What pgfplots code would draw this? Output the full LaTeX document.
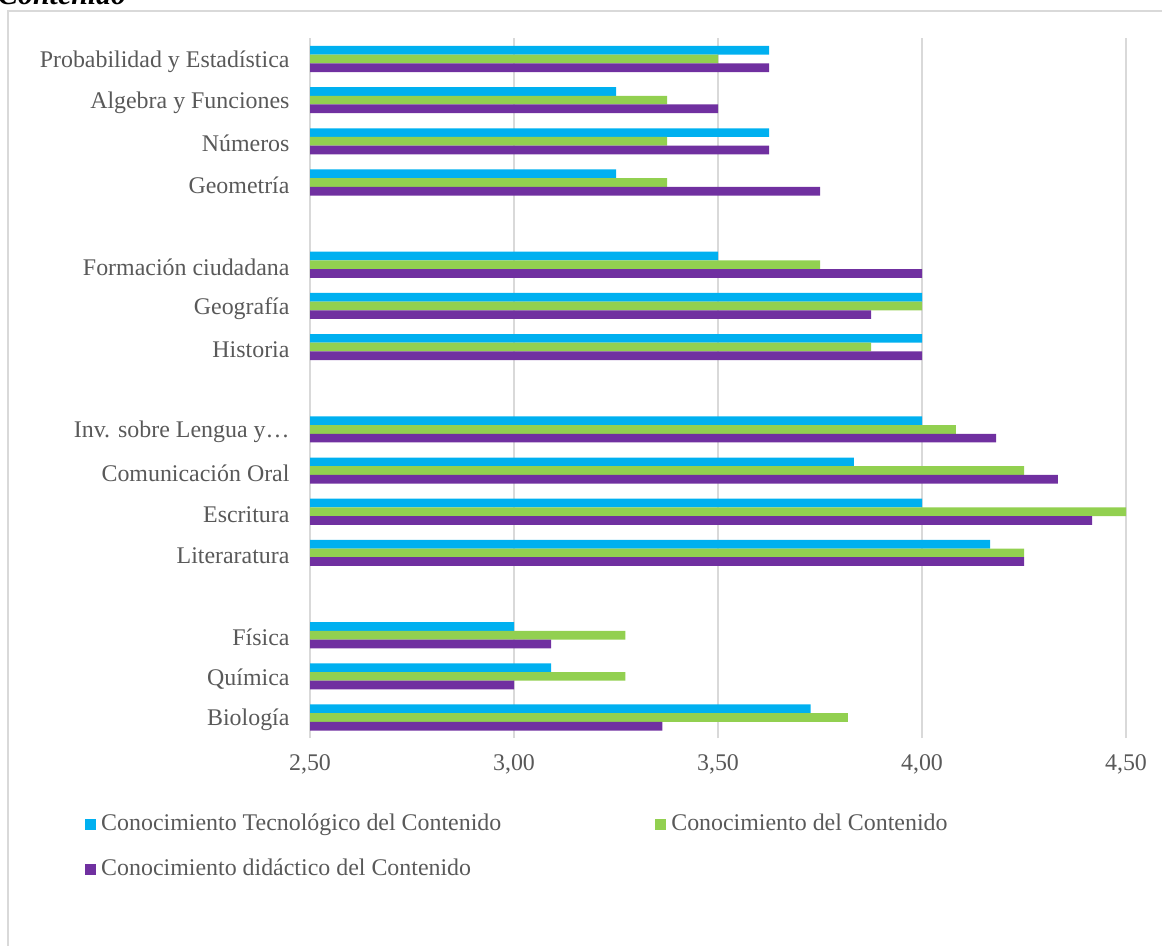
\documentclass[border=0pt]{standalone}
\usepackage{pgfplots}
\pgfplotsset{compat=1.18}
\usepackage{pgfplotstable}
\usepackage{fontspec}
\setmainfont{Liberation Serif}

\definecolor{ctc}{HTML}{00B0F0}
\definecolor{cc}{HTML}{92D050}
\definecolor{cdc}{HTML}{7030A0}
\definecolor{txt}{HTML}{595959}
\definecolor{gridc}{HTML}{D9D9D9}

% pos: row on the category axis (gaps separate the subject areas)
\pgfplotstableread{
pos tec    cont   did
0   3.7273 3.8182 3.3636
1   3.0909 3.2727 3.0000
2   3.0000 3.2727 3.0909
4   4.1667 4.2500 4.2500
5   4.0000 4.5000 4.4167
6   3.8333 4.2500 4.3333
7   4.0000 4.0833 4.1818
9   4.0000 3.8750 4.0000
10  4.0000 4.0000 3.8750
11  3.5000 3.7500 4.0000
13  3.2500 3.3750 3.7500
14  3.6250 3.3750 3.6250
15  3.2500 3.3750 3.5000
16  3.6250 3.5000 3.6250
}\datos

\begin{document}
\begin{tikzpicture}
\useasboundingbox (0bp,0bp) rectangle (1162bp,-946bp);
\draw[gridc, line width=1.5bp] (8bp,-950bp) -- (8bp,-11bp) -- (1170bp,-11bp);
\node[anchor=base west, inner sep=0pt,
      font=\fontsize{30}{34}\selectfont\bfseries\itshape] at (-2bp,-4bp) {Contenido};
\begin{axis}[
  at={(310bp,-738.1bp)}, anchor=south west,
  scale only axis, width=816bp, height=699.7bp,
  xmin=2.5, xmax=4.5, ymin=-0.5, ymax=16.5,
  xbar, bar width=8.7bp,
  axis line style={draw=none},
  major tick length=0pt,
  xtick={2.5,3,3.5,4,4.5},
  xticklabels={{\textrm{2,50}},{\textrm{3,00}},{\textrm{3,50}},{\textrm{4,00}},{\textrm{4,50}}},
  ytick={0,...,16},
  yticklabels={Biología,Química,Física,{},Literaratura,Escritura,
    Comunicación Oral,Inv. sobre Lengua y…,{},Historia,Geografía,
    Formación ciudadana,{},Geometría,Números,Algebra y Funciones,
    Probabilidad y Estadística},
  xmajorgrids,
  major grid style={gridc, line width=1.5bp},
  tick label style={font=\fontsize{24}{28}\selectfont, text=txt},
  yticklabel style={xshift=-17bp, yshift=-2.5bp},
  xticklabel style={yshift=-13bp},
  legend columns=2,
  legend cell align=left,
  legend image code/.code={\fill[#1] (0bp,-5.5bp) rectangle (11bp,5.5bp);},
  legend style={
    at={(-0.2757,-0.1070)}, anchor=north west,
    draw=none, fill=none, inner sep=0pt,
    font=\fontsize{24}{28}\selectfont, text=txt,
    row sep=22bp,
    nodes={inner sep=0pt, text height=17bp, text depth=6bp},
    /tikz/every odd column/.append style={column sep=5bp},
    /tikz/every even column/.append style={column sep=154bp},
  },
]
\addplot[fill=ctc, draw=none, bar shift=8.7bp] table[x=tec, y=pos] {\datos};
\addplot[fill=cc,  draw=none, bar shift=0bp]   table[x=cont, y=pos] {\datos};
\addplot[fill=cdc, draw=none, bar shift=-8.7bp] table[x=did, y=pos] {\datos};
\legend{Conocimiento Tecnológico del Contenido,
        Conocimiento del Contenido,
        Conocimiento didáctico del Contenido}
\end{axis}
\end{tikzpicture}
\end{document}
